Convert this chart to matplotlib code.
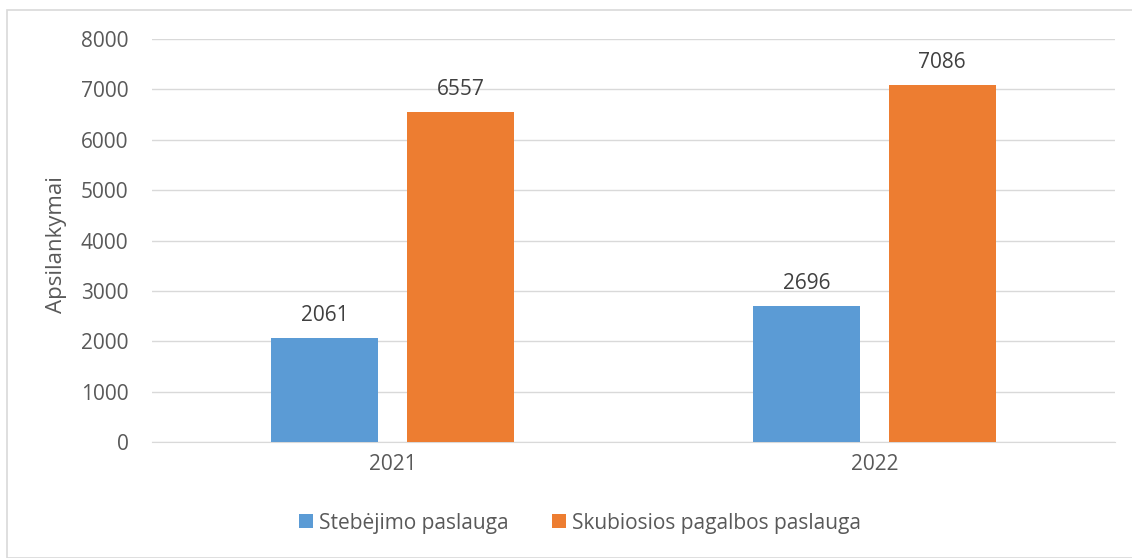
import numpy as np
import matplotlib.pyplot as plt
from matplotlib.patches import Rectangle

years = ['2021', '2022']
series = ['Stebėjimo paslauga', 'Skubiosios pagalbos paslauga']
stebejimas = [2061, 2696]
skubioji = [6557, 7086]
colors = ['#5b9bd5', '#ed7d31']

plt.rcParams['font.family'] = ['Open Sans', 'DejaVu Sans']
fs = 15

fig = plt.figure(figsize=(11.32, 5.58), dpi=100)
ax = fig.add_axes([0.1343, 0.2079, 0.8507, 0.7221])

# outer chart border
fig.patches.append(Rectangle((7 / 1132, 0), 1.0, 1 - 10 / 558, transform=fig.transFigure,
                             fill=False, edgecolor='#d9d9d9', linewidth=1.2))

x = np.arange(len(years))
w = 0.222
off = 0.141
for vals, sx, c, lab in [(stebejimas, -off, colors[0], series[0]),
                         (skubioji, off, colors[1], series[1])]:
    bars = ax.bar(x + sx, vals, w, color=c, label=lab, zorder=3)
    for b, v in zip(bars, vals):
        ax.text(b.get_x() + b.get_width() / 2, v + 240, str(v), ha='center', va='bottom',
                fontsize=fs, color='#404040')

ax.set_xlim(-0.5, 1.5)
ax.set_ylim(0, 8000)
ax.set_yticks(range(0, 8001, 1000))
ax.set_xticks(x)
ax.set_xticklabels(years)
ax.yaxis.grid(True, color='#d9d9d9', linewidth=1)
ax.set_axisbelow(True)
for s in ['top', 'right', 'left']:
    ax.spines[s].set_visible(False)
ax.spines['bottom'].set_color('#d9d9d9')
ax.tick_params(axis='both', length=0, labelsize=fs, colors='#595959', pad=9)
ax.tick_params(axis='y', pad=17)
ax.set_ylabel('Apsilankymai', fontsize=16, color='#595959', va='center')
ax.yaxis.set_label_coords(-0.099, 0.49)

fig.legend(loc='center', bbox_to_anchor=(580 / 1132, 1 - 523 / 558), ncol=2, frameon=False,
           fontsize=fs, labelcolor='#595959', handlelength=0.67, handleheight=0.67,
           columnspacing=2.1, handletextpad=0.3)

fig.savefig('out.png', dpi=100)
